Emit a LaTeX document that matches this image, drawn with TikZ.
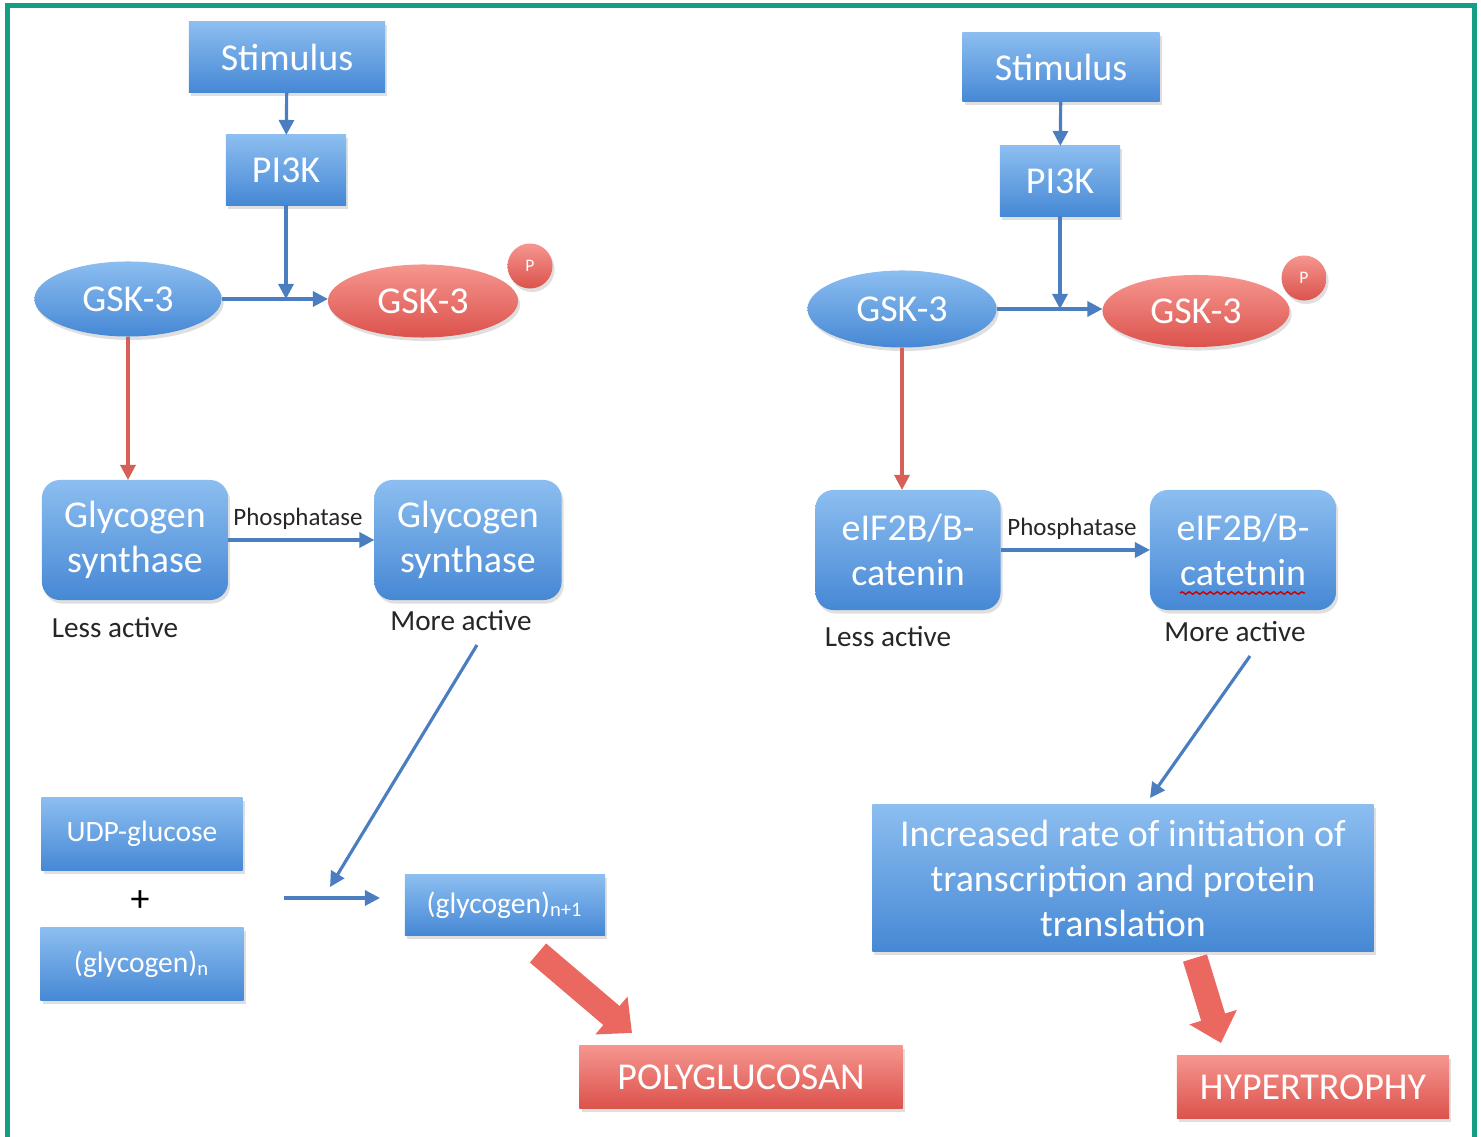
\documentclass[tikz,border=0pt]{standalone}
\usepackage{fontspec}
\setmainfont{Carlito}
\usetikzlibrary{arrows.meta}
\usetikzlibrary{shapes.geometric}
\usetikzlibrary{shadows,decorations.pathmorphing}

\definecolor{boxtop}{RGB}{140,190,240}
\definecolor{boxbot}{RGB}{70,136,213}
\definecolor{redtop}{RGB}{245,150,143}
\definecolor{redbot}{RGB}{220,82,76}
\definecolor{linkblue}{RGB}{74,126,192}
\definecolor{linkred}{RGB}{214,96,88}
\definecolor{fatred}{RGB}{234,104,96}
\definecolor{frameteal}{RGB}{20,158,132}

\newcommand*{\bigfont}{\fontsize{10.8}{12.8}\selectfont}
\newcommand*{\smfont}{\fontsize{8.4}{10}\selectfont}
\newcommand*{\actfont}{\fontsize{8.3}{10}\selectfont}
\newcommand*{\phfont}{\fontsize{7.1}{8.5}\selectfont}

% small black text under / over the boxes
\newcommand*{\actlabel}[4][actfont]{%
  \node [text=black!85, font=\csname #1\endcsname] (#2) at (#3) {#4};
}

\begin{document}
\begin{tikzpicture}[x=0.01cm, y=-0.01cm,
    every node/.style = {inner sep = 0pt, outer sep = 0pt},
    softshadow/.style = {drop shadow = {shadow xshift = 0.6pt,
                         shadow yshift = -1pt, opacity = 0.25}}]
    \tikzset{bluebox/.style = {rectangle, top color = boxtop,
               bottom color = boxbot, text = white, font = \bigfont,
               align = center, softshadow},
             roundbox/.style = {bluebox, rounded corners = 0.18cm},
             redbox/.style = {bluebox, top color = redtop,
               bottom color = redbot},
             blueoval/.style = {bluebox, ellipse},
             redoval/.style = {redbox, ellipse},
             phos/.style = {redbox, circle, minimum size = 0.45cm,
               font = \fontsize{5}{6}\selectfont},
             link/.style = {draw = linkblue, line width = 0.9pt,
               -{Triangle[length = 0.15cm, width = 0.15cm]}},
             redlink/.style = {link, draw = linkred},
             fat/.style = {draw = fatred, line width = 0.25cm,
               -{Triangle[length = 0.27cm, width = 0.48cm]}}}

    \useasboundingbox (0,0) rectangle (1481,1137);
    \begin{scope}
        \clip (0,0) rectangle (1481,1137);
        \draw [frameteal, line width = 0.05cm] (7.5,6) rectangle (1474.5,1200);
    \end{scope}

    % glycogen side
    \node [bluebox, minimum width = 1.96cm, minimum height = 0.70cm]
        (stimL) at (287,57) {Stimulus};
    \node [bluebox, minimum width = 1.20cm, minimum height = 0.70cm]
        (pikL) at (286,170) {PI3K};
    \node [blueoval, minimum width = 1.87cm, minimum height = 0.75cm]
        (gskL) at (128,299) {GSK-3};
    \node [redoval, minimum width = 1.90cm, minimum height = 0.73cm]
        (gskpL) at (423,301) {GSK-3};
    \node [phos] (pL) at (530,266) {P};
    \node [roundbox, minimum width = 1.86cm, minimum height = 1.20cm]
        (glyL) at (135,540) {Glycogen\\synthase};
    \node [roundbox, minimum width = 1.87cm, minimum height = 1.20cm]
        (glyR) at (468,540) {Glycogen\\synthase};
    \actlabel{lessL}{115,628}{Less active}
    \actlabel{moreL}{461,621}{More active}
    \actlabel[phfont]{phosL}{298,519}{Phosphatase}
    \node [bluebox, font = \smfont, minimum width = 2.01cm,
        minimum height = 0.73cm] (udp) at (142,834) {UDP-glucose};
    \node [font = \bigfont] (plus) at (140,901) {+};
    \node [bluebox, font = \smfont, minimum width = 2.03cm,
        minimum height = 0.73cm] (glyn) at (142,964)
        {(glycogen)\textsubscript{n}};
    \node [bluebox, font = \smfont, minimum width = 2.00cm,
        minimum height = 0.60cm] (glyn1) at (505,905)
        {(glycogen)\textsubscript{n+1}};
    \node [redbox, minimum width = 3.23cm, minimum height = 0.63cm]
        (poly) at (741,1077) {POLYGLUCOSAN};

    \coordinate (dsL) at (477,645);
    \coordinate (deL) at (330,887);
    \coordinate (rxS) at (284,898);
    \coordinate (rxE) at (380,898);
    \coordinate (faS) at (538,953);
    \coordinate (faE) at (632,1033);

    \draw [link] (stimL) -- (pikL);
    \draw [link] (gskL.east) -- (gskL.east -| gskpL.west);
    \draw [link] (pikL.south) -- (pikL.south |- gskL.east);
    \draw [redlink] (gskL.south) -- (gskL.south |- glyL.north);
    \draw [link] (glyL) -- (glyR);
    \draw [link] (dsL) -- (deL);
    \draw [link] (rxS) -- (rxE);
    \draw [fat] (faS) -- (faE);

    % hypertrophy side
    \node [bluebox, minimum width = 1.97cm, minimum height = 0.69cm]
        (stimR) at (1061,67) {Stimulus};
    \node [bluebox, minimum width = 1.20cm, minimum height = 0.70cm]
        (pikR) at (1060,181) {PI3K};
    \node [blueoval, minimum width = 1.89cm, minimum height = 0.77cm]
        (gskR) at (902,309) {GSK-3};
    \node [redoval, minimum width = 1.87cm, minimum height = 0.72cm]
        (gskpR) at (1196,311) {GSK-3};
    \node [phos] (pR) at (1304,278) {P};
    \node [roundbox, minimum width = 1.85cm, minimum height = 1.20cm]
        (eifL) at (908,550) {eIF2B/B-\\catenin};
    \node [roundbox, minimum width = 1.86cm, minimum height = 1.20cm]
        (eifR) at (1243,550) {eIF2B/B-\\catetnin};
    \draw [red!80!black, line width = 0.4pt, decorate,
        decoration = {snake, amplitude = 0.35pt, segment length = 2pt}]
        ([xshift = -0.63cm, yshift = -0.43cm]eifR.center)
        -- ([xshift = 0.62cm, yshift = -0.43cm]eifR.center);
    \actlabel{lessR}{888,637}{Less active}
    \actlabel{moreR}{1235,632}{More active}
    \actlabel[phfont]{phosR}{1072,529}{Phosphatase}
    \node [bluebox, minimum width = 5.01cm, minimum height = 1.47cm]
        (incr) at (1123,878)
        {Increased rate of initiation of\\transcription and protein\\translation};
    \node [redbox, minimum width = 2.72cm, minimum height = 0.63cm]
        (hyp) at (1313,1087) {HYPERTROPHY};

    \coordinate (dsR) at (1250,656);
    \coordinate (deR) at (1150,798);
    \coordinate (fbS) at (1195,958);
    \coordinate (fbE) at (1221,1043);

    \draw [link] (stimR) -- (pikR);
    \draw [link] (gskR.east) -- (gskR.east -| gskpR.west);
    \draw [link] (pikR.south) -- (pikR.south |- gskR.east);
    \draw [redlink] (gskR.south) -- (gskR.south |- eifL.north);
    \draw [link] (eifL) -- (eifR);
    \draw [link] (dsR) -- (deR);
    \draw [fat] (fbS) -- (fbE);
\end{tikzpicture}
\end{document}
